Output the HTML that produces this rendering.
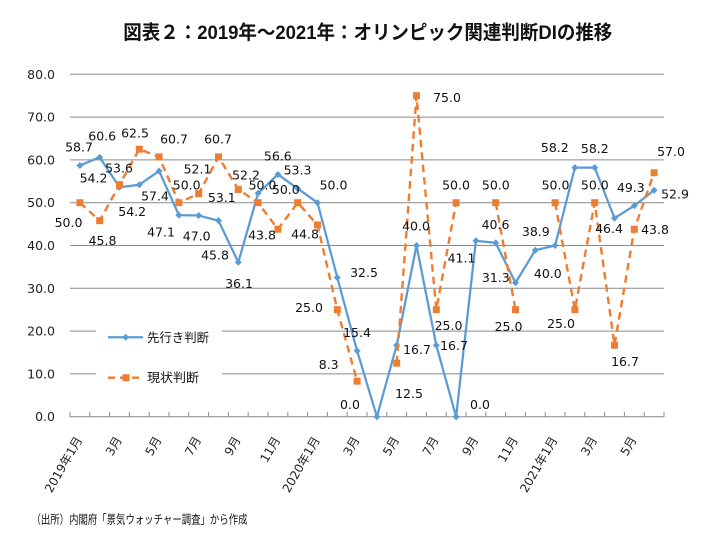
<!DOCTYPE html>
<html><head><meta charset="utf-8">
<style>
html,body{margin:0;padding:0;background:#fff;}
svg{display:block;}
.num{font-family:"DejaVu Sans","Liberation Sans",sans-serif;font-size:12.5px;fill:#111;}
.ax{font-family:"DejaVu Sans","Liberation Sans","Noto Sans CJK JP",sans-serif;font-size:12.5px;fill:#222;}
.xl{font-family:"DejaVu Sans","Noto Sans CJK JP",sans-serif;font-size:12px;fill:#222;}
.jp{font-family:"Liberation Sans","Noto Sans CJK JP",sans-serif;fill:#111;}
</style></head>
<body>
<svg width="702" height="540" viewBox="0 0 702 540" xmlns="http://www.w3.org/2000/svg">
<rect width="702" height="540" fill="#fff"/>
<!-- title -->
<text class="jp" x="123.3" y="39" font-size="19.5" font-weight="bold" textLength="489" lengthAdjust="spacingAndGlyphs" fill="#000">図表２：2019年～2021年：オリンピック関連判断DIの推移</text>

<!-- gridlines -->
<g stroke="#8a8a8a" stroke-width="1">
<line x1="70" x2="664" y1="74.3" y2="74.3"/>
<line x1="70" x2="664" y1="117.1" y2="117.1"/>
<line x1="70" x2="664" y1="159.9" y2="159.9"/>
<line x1="70" x2="664" y1="202.7" y2="202.7"/>
<line x1="70" x2="664" y1="245.5" y2="245.5"/>
<line x1="70" x2="664" y1="288.3" y2="288.3"/>
<line x1="70" x2="664" y1="331.1" y2="331.1"/>
<line x1="70" x2="664" y1="373.9" y2="373.9"/>
<line x1="70" x2="664" y1="416.7" y2="416.7"/>
</g>
<!-- ticks -->
<g stroke="#8a8a8a" stroke-width="1">
<path d="M70 412V417M89.8 412V417M109.6 412V417M129.4 412V417M149.2 412V417M169 412V417M188.8 412V417M208.6 412V417M228.4 412V417M248.2 412V417M268 412V417M287.8 412V417M307.6 412V417M327.4 412V417M347.2 412V417M367 412V417M386.8 412V417M406.6 412V417M426.4 412V417M446.2 412V417M466 412V417M485.8 412V417M505.6 412V417M525.4 412V417M545.2 412V417M565 412V417M584.8 412V417M604.6 412V417M624.4 412V417M644.2 412V417M664 412V417"/>
</g>

<!-- y labels -->
<g class="ax" text-anchor="end">
<text x="55" y="74.3" dy="0.36em">80.0</text>
<text x="55" y="117.1" dy="0.36em">70.0</text>
<text x="55" y="159.9" dy="0.36em">60.0</text>
<text x="55" y="202.7" dy="0.36em">50.0</text>
<text x="55" y="245.5" dy="0.36em">40.0</text>
<text x="55" y="288.3" dy="0.36em">30.0</text>
<text x="55" y="331.1" dy="0.36em">20.0</text>
<text x="55" y="373.9" dy="0.36em">10.0</text>
<text x="55" y="416.7" dy="0.36em">0.0</text>
</g>

<!-- x labels -->
<g class="xl" text-anchor="end">
<text transform="translate(78.9,437.5) rotate(-60)" dy="0.36em">2019年1月</text>
<text transform="translate(118.5,437.5) rotate(-60)" dy="0.36em">3月</text>
<text transform="translate(158.1,437.5) rotate(-60)" dy="0.36em">5月</text>
<text transform="translate(197.7,437.5) rotate(-60)" dy="0.36em">7月</text>
<text transform="translate(237.3,437.5) rotate(-60)" dy="0.36em">9月</text>
<text transform="translate(276.9,437.5) rotate(-60)" dy="0.36em">11月</text>
<text transform="translate(316.5,437.5) rotate(-60)" dy="0.36em">2020年1月</text>
<text transform="translate(356.1,437.5) rotate(-60)" dy="0.36em">3月</text>
<text transform="translate(395.7,437.5) rotate(-60)" dy="0.36em">5月</text>
<text transform="translate(435.3,437.5) rotate(-60)" dy="0.36em">7月</text>
<text transform="translate(474.9,437.5) rotate(-60)" dy="0.36em">9月</text>
<text transform="translate(514.5,437.5) rotate(-60)" dy="0.36em">11月</text>
<text transform="translate(554.1,437.5) rotate(-60)" dy="0.36em">2021年1月</text>
<text transform="translate(593.7,437.5) rotate(-60)" dy="0.36em">3月</text>
<text transform="translate(633.3,437.5) rotate(-60)" dy="0.36em">5月</text>
</g>

<!-- blue series -->
<polyline fill="none" stroke="#5B9BD5" stroke-width="2.25" stroke-linejoin="round"
points="79.9,165.46 99.7,157.33 119.5,187.29 139.3,184.72 159.1,171.03 178.9,215.11 198.7,215.54 218.5,220.68 238.3,262.19 258.1,193.28 277.9,174.45 297.7,188.58 317.5,202.7 337.3,277.6 357.1,350.79 376.9,416.7 396.7,345.22 416.5,245.5 436.3,345.22 456.1,416.7 475.9,240.79 495.7,242.93 515.5,282.74 535.3,250.21 555.1,245.5 574.9,167.6 594.7,167.6 614.5,218.11 634.3,205.7 654.1,190.29"/>
<g fill="#5B9BD5">
<path d="M79.9 161.96l3.5 3.5-3.5 3.5-3.5-3.5z"/>
<path d="M99.7 153.83l3.5 3.5-3.5 3.5-3.5-3.5z"/>
<path d="M119.5 183.79l3.5 3.5-3.5 3.5-3.5-3.5z"/>
<path d="M139.3 181.22l3.5 3.5-3.5 3.5-3.5-3.5z"/>
<path d="M159.1 167.53l3.5 3.5-3.5 3.5-3.5-3.5z"/>
<path d="M178.9 211.61l3.5 3.5-3.5 3.5-3.5-3.5z"/>
<path d="M198.7 212.04l3.5 3.5-3.5 3.5-3.5-3.5z"/>
<path d="M218.5 217.18l3.5 3.5-3.5 3.5-3.5-3.5z"/>
<path d="M238.3 258.69l3.5 3.5-3.5 3.5-3.5-3.5z"/>
<path d="M258.1 189.78l3.5 3.5-3.5 3.5-3.5-3.5z"/>
<path d="M277.9 170.95l3.5 3.5-3.5 3.5-3.5-3.5z"/>
<path d="M297.7 185.08l3.5 3.5-3.5 3.5-3.5-3.5z"/>
<path d="M317.5 199.2l3.5 3.5-3.5 3.5-3.5-3.5z"/>
<path d="M337.3 274.1l3.5 3.5-3.5 3.5-3.5-3.5z"/>
<path d="M357.1 347.29l3.5 3.5-3.5 3.5-3.5-3.5z"/>
<path d="M376.9 413.2l3.5 3.5-3.5 3.5-3.5-3.5z"/>
<path d="M396.7 341.72l3.5 3.5-3.5 3.5-3.5-3.5z"/>
<path d="M416.5 242l3.5 3.5-3.5 3.5-3.5-3.5z"/>
<path d="M436.3 341.72l3.5 3.5-3.5 3.5-3.5-3.5z"/>
<path d="M456.1 413.2l3.5 3.5-3.5 3.5-3.5-3.5z"/>
<path d="M475.9 237.29l3.5 3.5-3.5 3.5-3.5-3.5z"/>
<path d="M495.7 239.43l3.5 3.5-3.5 3.5-3.5-3.5z"/>
<path d="M515.5 279.24l3.5 3.5-3.5 3.5-3.5-3.5z"/>
<path d="M535.3 246.71l3.5 3.5-3.5 3.5-3.5-3.5z"/>
<path d="M555.1 242l3.5 3.5-3.5 3.5-3.5-3.5z"/>
<path d="M574.9 164.1l3.5 3.5-3.5 3.5-3.5-3.5z"/>
<path d="M594.7 164.1l3.5 3.5-3.5 3.5-3.5-3.5z"/>
<path d="M614.5 214.61l3.5 3.5-3.5 3.5-3.5-3.5z"/>
<path d="M634.3 202.2l3.5 3.5-3.5 3.5-3.5-3.5z"/>
<path d="M654.1 186.79l3.5 3.5-3.5 3.5-3.5-3.5z"/>
</g>

<!-- orange series -->
<g fill="none" stroke="#ED7D31" stroke-width="2.4" stroke-dasharray="7.5 5">
<polyline points="79.9,202.7 99.7,220.68 119.5,184.72 139.3,149.2 159.1,156.9 178.9,202.7 198.7,193.71 218.5,156.9 238.3,189.43 258.1,202.7 277.9,229.24 297.7,202.7 317.5,224.96 337.3,309.7 357.1,381.18"/>
<polyline points="396.7,363.2 416.5,95.7 436.3,309.7 456.1,202.7"/>
<polyline points="495.7,202.7 515.5,309.7"/>
<polyline points="555.1,202.7 574.9,309.7 594.7,202.7 614.5,345.22 634.3,229.24 654.1,172.74"/>
</g>
<g fill="#ED7D31">
<rect x="76.4" y="199.2" width="7" height="7"/>
<rect x="96.2" y="217.18" width="7" height="7"/>
<rect x="116" y="181.22" width="7" height="7"/>
<rect x="135.8" y="145.7" width="7" height="7"/>
<rect x="155.6" y="153.4" width="7" height="7"/>
<rect x="175.4" y="199.2" width="7" height="7"/>
<rect x="195.2" y="190.21" width="7" height="7"/>
<rect x="215" y="153.4" width="7" height="7"/>
<rect x="234.8" y="185.93" width="7" height="7"/>
<rect x="254.6" y="199.2" width="7" height="7"/>
<rect x="274.4" y="225.74" width="7" height="7"/>
<rect x="294.2" y="199.2" width="7" height="7"/>
<rect x="314" y="221.46" width="7" height="7"/>
<rect x="333.8" y="306.2" width="7" height="7"/>
<rect x="353.6" y="377.68" width="7" height="7"/>
<rect x="393.2" y="359.7" width="7" height="7"/>
<rect x="413" y="92.2" width="7" height="7"/>
<rect x="432.8" y="306.2" width="7" height="7"/>
<rect x="452.6" y="199.2" width="7" height="7"/>
<rect x="492.2" y="199.2" width="7" height="7"/>
<rect x="512" y="306.2" width="7" height="7"/>
<rect x="551.6" y="199.2" width="7" height="7"/>
<rect x="571.4" y="306.2" width="7" height="7"/>
<rect x="591.2" y="199.2" width="7" height="7"/>
<rect x="611" y="341.72" width="7" height="7"/>
<rect x="630.8" y="225.74" width="7" height="7"/>
<rect x="650.6" y="169.24" width="7" height="7"/>
</g>

<!-- data labels -->
<g class="num" text-anchor="middle">
<!-- blue -->
<text x="79" y="147" dy="0.36em">58.7</text>
<text x="102.2" y="136" dy="0.36em">60.6</text>
<text x="119" y="168" dy="0.36em">53.6</text>
<text x="132.2" y="211.7" dy="0.36em">54.2</text>
<text x="155" y="196" dy="0.36em">57.4</text>
<text x="161" y="232" dy="0.36em">47.1</text>
<text x="196.7" y="236" dy="0.36em">47.0</text>
<text x="215" y="255" dy="0.36em">45.8</text>
<text x="239" y="283.3" dy="0.36em">36.1</text>
<text x="246" y="175" dy="0.36em">52.2</text>
<text x="277.8" y="156" dy="0.36em">56.6</text>
<text x="297.5" y="170" dy="0.36em">53.3</text>
<text x="333.5" y="185" dy="0.36em">50.0</text>
<text x="364" y="272.3" dy="0.36em">32.5</text>
<text x="357" y="332.7" dy="0.36em">15.4</text>
<text x="350" y="404.3" dy="0.36em">0.0</text>
<text x="417" y="349.3" dy="0.36em">16.7</text>
<text x="416" y="226" dy="0.36em">40.0</text>
<text x="454" y="345.7" dy="0.36em">16.7</text>
<text x="480" y="404.3" dy="0.36em">0.0</text>
<text x="461.5" y="258" dy="0.36em">41.1</text>
<text x="495.5" y="224.3" dy="0.36em">40.6</text>
<text x="495.8" y="277.3" dy="0.36em">31.3</text>
<text x="535.8" y="231.7" dy="0.36em">38.9</text>
<text x="547.8" y="273.3" dy="0.36em">40.0</text>
<text x="554.8" y="147.3" dy="0.36em">58.2</text>
<text x="594.8" y="148.3" dy="0.36em">58.2</text>
<text x="609" y="228.3" dy="0.36em">46.4</text>
<text x="630.8" y="187.3" dy="0.36em">49.3</text>
<text x="675" y="194" dy="0.36em">52.9</text>
<!-- orange -->
<text x="68.5" y="222.7" dy="0.36em">50.0</text>
<text x="102.5" y="240.7" dy="0.36em">45.8</text>
<text x="93.5" y="178" dy="0.36em">54.2</text>
<text x="135" y="133" dy="0.36em">62.5</text>
<text x="174" y="139" dy="0.36em">60.7</text>
<text x="186.7" y="185" dy="0.36em">50.0</text>
<text x="197.5" y="169" dy="0.36em">52.1</text>
<text x="218" y="139" dy="0.36em">60.7</text>
<text x="221.8" y="197.7" dy="0.36em">53.1</text>
<text x="262.5" y="185" dy="0.36em">50.0</text>
<text x="262" y="235" dy="0.36em">43.8</text>
<text x="285.8" y="189.3" dy="0.36em">50.0</text>
<text x="305" y="234" dy="0.36em">44.8</text>
<text x="309" y="307.7" dy="0.36em">25.0</text>
<text x="328.7" y="364.3" dy="0.36em">8.3</text>
<text x="409" y="393.3" dy="0.36em">12.5</text>
<text x="447" y="97.3" dy="0.36em">75.0</text>
<text x="448.5" y="325.7" dy="0.36em">25.0</text>
<text x="456" y="185" dy="0.36em">50.0</text>
<text x="495.8" y="185" dy="0.36em">50.0</text>
<text x="508.5" y="326.7" dy="0.36em">25.0</text>
<text x="555.5" y="185" dy="0.36em">50.0</text>
<text x="561" y="323.3" dy="0.36em">25.0</text>
<text x="594.8" y="185" dy="0.36em">50.0</text>
<text x="625" y="361.7" dy="0.36em">16.7</text>
<text x="655" y="229.3" dy="0.36em">43.8</text>
<text x="671" y="151.7" dy="0.36em">57.0</text>
</g>

<!-- legend -->
<rect x="96" y="316" width="126" height="80" fill="#fff"/>
<line x1="108" x2="143" y1="337.3" y2="337.3" stroke="#5B9BD5" stroke-width="2.25"/>
<path d="M125.7 333.8l3.5 3.5-3.5 3.5-3.5-3.5z" fill="#5B9BD5"/>
<text class="jp" x="147" y="337.3" dy="0.36em" font-size="12.5" textLength="62" lengthAdjust="spacingAndGlyphs">先行き判断</text>
<line x1="108" x2="143" y1="377.7" y2="377.7" stroke="#ED7D31" stroke-width="2.4" stroke-dasharray="7 5"/>
<rect x="122.5" y="374.2" width="7" height="7" fill="#ED7D31"/>
<text class="jp" x="147" y="377.7" dy="0.36em" font-size="12.5" textLength="52" lengthAdjust="spacingAndGlyphs">現状判断</text>

<!-- source -->
<text class="jp" x="31.5" y="519" dy="0.36em" font-size="12" textLength="216" lengthAdjust="spacingAndGlyphs" fill="#222">（出所）内閣府「景気ウォッチャー調査」から作成</text>
</svg>
</body></html>
